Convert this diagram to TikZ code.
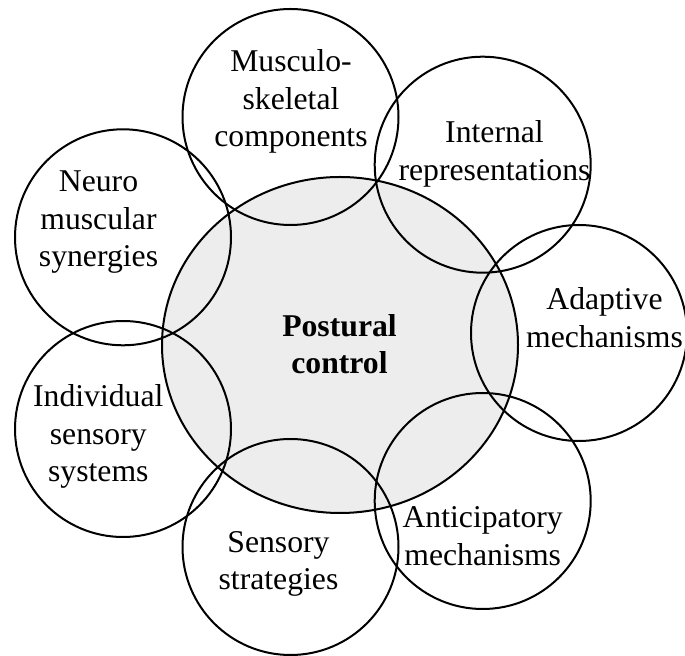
\documentclass[tikz,border=0pt]{standalone}
\usepackage{fontspec}
\setmainfont{Liberation Serif}
\usetikzlibrary{shapes.geometric}
\newcommand{\linesof}[1]{\vtop{\halign{\hfil##\hfil\cr#1\crcr}}}
\tikzset{
  bubble/.style={circle, draw=black, line width=1pt, inner sep=0pt, minimum size=108pt},
  core/.style={ellipse, draw=black, line width=1pt, fill=black!7, inner sep=0pt, minimum width=178pt, minimum height=168pt},
  lbl/.style={anchor=base, inner sep=0pt, font=\fontsize{15.85pt}{18.75pt}\selectfont},
  corelbl/.style={lbl, font=\fontsize{15.85pt}{18.3pt}\selectfont\bfseries}
}
\begin{document}
\begin{tikzpicture}[x=0.5pt, y=-0.5pt]
\useasboundingbox (0,0) rectangle (685,656);
\node[core] (pc) at (340,345) {};
\node[bubble] (ms) at (290.5,117) {};
\node[bubble] (ir) at (482.7,164.7) {};
\node[bubble] (nm) at (123,237.3) {};
\node[bubble] (am) at (579,333) {};
\node[bubble] (is) at (123,429) {};
\node[bubble] (ss) at (290.5,547) {};
\node[bubble] (an) at (482.7,501) {};
\node[corelbl] (pct) at (339.5,336.7) {\linesof{Postural\cr control}};
\node[lbl] (mst) at (291,71.7) {\linesof{Musculo-\cr skeletal\cr components}};
\node[lbl] (irt) at (494.5,143) {\linesof{Internal\cr representations}};
\node[lbl] (nmt) at (98.5,191.7) {\linesof{Neuro\cr muscular\cr synergies}};
\node[lbl] (amt) at (604.5,310) {\linesof{Adaptive\cr mechanisms}};
\node[lbl] (ist) at (98.3,406.7) {\linesof{Individual\cr sensory\cr systems}};
\node[lbl] (sst) at (278.5,552.5) {\linesof{Sensory\cr strategies}};
\node[lbl] (ant) at (482.7,527.7) {\linesof{Anticipatory\cr mechanisms}};
\end{tikzpicture}
\end{document}
